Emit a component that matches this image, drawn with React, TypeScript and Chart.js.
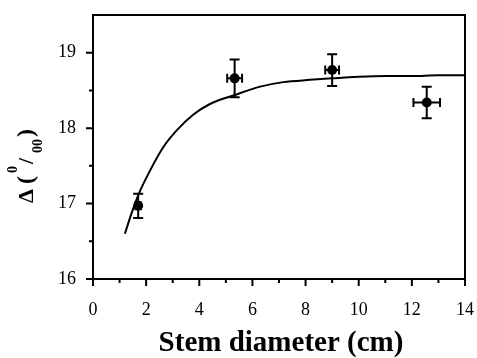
import React, { useEffect, useRef } from 'react';
import { Chart, registerables } from 'chart.js';

Chart.register(...registerables);

// ---- data ----
const stemDiameter = [1.7, 5.33, 9.0, 12.56];
const deltaValues = [16.97, 18.66, 18.77, 18.34];
const deltaErr = [0.16, 0.25, 0.21, 0.21];
const diameterErr = [0.1, 0.28, 0.26, 0.5];

const fitX = [1.2, 1.45, 1.7, 2.15, 2.65, 3.15, 3.78, 4.4, 5.34, 6.29, 7.16, 8.17, 9.0, 10.0, 11.0, 12.0, 13.0, 14.0];
const fitY = [16.6, 16.87, 17.11, 17.44, 17.75, 17.97, 18.18, 18.32, 18.44, 18.55, 18.61, 18.64, 18.66, 18.68, 18.69, 18.69, 18.7, 18.7];

const xTickValues = [0, 2, 4, 6, 8, 10, 12, 14];
const xMinorTicks = [1, 3, 5, 7, 9, 11, 13];
const yTickValues = [16, 17, 18, 19];
const yMinorTicks = [16.5, 17.5, 18.5];

const xTitle = 'Stem diameter (cm)';
const FONT = '"Liberation Serif", "Times New Roman", serif';

const decorPlugin = {
  id: 'decor',
  afterDatasetsDraw(chart: any) {
    const ctx = chart.ctx as CanvasRenderingContext2D;
    const xs = chart.scales.x;
    const ys = chart.scales.y;
    const { left, right, top, bottom } = chart.chartArea;
    ctx.save();
    ctx.strokeStyle = '#000';
    ctx.lineWidth = 2;
    // error bars
    for (let i = 0; i < stemDiameter.length; i++) {
      const px = xs.getPixelForValue(stemDiameter[i]);
      const py = ys.getPixelForValue(deltaValues[i]);
      const y1 = ys.getPixelForValue(deltaValues[i] + deltaErr[i]);
      const y2 = ys.getPixelForValue(deltaValues[i] - deltaErr[i]);
      const x1 = xs.getPixelForValue(stemDiameter[i] - diameterErr[i]);
      const x2 = xs.getPixelForValue(stemDiameter[i] + diameterErr[i]);
      ctx.beginPath();
      ctx.moveTo(px, y1); ctx.lineTo(px, y2);
      ctx.moveTo(px - 5, y1); ctx.lineTo(px + 5, y1);
      ctx.moveTo(px - 5, y2); ctx.lineTo(px + 5, y2);
      ctx.moveTo(x1, py); ctx.lineTo(x2, py);
      ctx.moveTo(x1, py - 4.5); ctx.lineTo(x1, py + 4.5);
      ctx.moveTo(x2, py - 4.5); ctx.lineTo(x2, py + 4.5);
      ctx.stroke();
    }
    // frame
    ctx.beginPath();
    ctx.rect(left, top, right - left, bottom - top);
    ctx.stroke();
    // ticks
    ctx.beginPath();
    xTickValues.forEach((v) => {
      const p = xs.getPixelForValue(v);
      ctx.moveTo(p, bottom); ctx.lineTo(p, bottom + 7);
    });
    xMinorTicks.forEach((v) => {
      const p = xs.getPixelForValue(v);
      ctx.moveTo(p, bottom); ctx.lineTo(p, bottom + 4);
    });
    yTickValues.forEach((v) => {
      const p = ys.getPixelForValue(v);
      ctx.moveTo(left, p); ctx.lineTo(left - 7, p);
    });
    yMinorTicks.forEach((v) => {
      const p = ys.getPixelForValue(v);
      ctx.moveTo(left, p); ctx.lineTo(left - 4, p);
    });
    ctx.stroke();

    // x title
    ctx.fillStyle = '#000';
    ctx.font = `bold 29px ${FONT}`;
    ctx.textAlign = 'center';
    ctx.textBaseline = 'alphabetic';
    ctx.fillText(xTitle, (left + right) / 2 + 2, 351);

    // y title: Δ (0/00) with super/subscripts, rotated
    const segs = [
      { t: 'Δ', f: `bold 22px ${FONT}`, at: 0, dy: 0 },
      { t: '(', f: `bold 24px ${FONT}`, at: 19, dy: 0 },
      { t: '0', f: `bold 14px ${FONT}`, at: 30, dy: -16 },
      { t: '/', f: `bold 22px ${FONT}`, at: 39, dy: 0 },
      { t: '00', f: `bold 14px ${FONT}`, at: 50, dy: 9 },
      { t: ')', f: `bold 24px ${FONT}`, at: 66, dy: 0 },
    ];
    ctx.translate(33, 203);
    ctx.rotate(-Math.PI / 2);
    ctx.textAlign = 'left';
    segs.forEach((s) => {
      ctx.font = s.f;
      ctx.fillText(s.t, s.at, s.dy);
    });
    ctx.restore();
  },
};

const noPad = (s: any) => {
  s.paddingLeft = 0;
  s.paddingRight = 0;
  s.paddingTop = 0;
  s.paddingBottom = 0;
};

export default function App() {
  const ref = useRef<HTMLCanvasElement | null>(null);
  useEffect(() => {
    if (!ref.current) return;
    const chart = new Chart(ref.current, {
      type: 'scatter',
      data: {
        datasets: [
          {
            data: stemDiameter.map((x, i) => ({ x, y: deltaValues[i] })),
            pointRadius: 5,
            pointBackgroundColor: '#000',
            pointBorderColor: '#000',
            pointBorderWidth: 0,
            showLine: false,
          },
          {
            data: fitX.map((x, i) => ({ x, y: fitY[i] })),
            showLine: true,
            pointRadius: 0,
            borderColor: '#000',
            borderWidth: 2,
            cubicInterpolationMode: 'monotone',
          } as any,
        ],
      },
      options: {
        animation: false,
        responsive: false,
        devicePixelRatio: 1,
        layout: { padding: { top: 15, right: 12, left: 0, bottom: 0 } },
        plugins: { legend: { display: false }, tooltip: { enabled: false } },
        scales: {
          x: {
            type: 'linear',
            min: 0,
            max: 14,
            afterFit: (s: any) => { s.height = 79; noPad(s); },
            afterBuildTicks: (s: any) => { s.ticks = xTickValues.map((v) => ({ value: v })); },
            grid: { display: false, drawTicks: false },
            border: { display: false },
            ticks: { color: '#000', font: { family: FONT, size: 18 }, padding: 20, maxRotation: 0, autoSkip: false },
          },
          y: {
            type: 'linear',
            min: 16,
            max: 19.5,
            afterFit: (s: any) => { s.width = 93; noPad(s); },
            afterBuildTicks: (s: any) => { s.ticks = yTickValues.map((v) => ({ value: v })); },
            grid: { display: false, drawTicks: false },
            border: { display: false },
            ticks: { color: '#000', font: { family: FONT, size: 18 }, padding: 17, autoSkip: false },
          },
        },
      },
      plugins: [decorPlugin],
    });
    return () => chart.destroy();
  }, []);
  return (
    <div style={{ position: 'fixed', left: 0, top: 0, width: 477, height: 358, background: '#fff' }}>
      <canvas ref={ref} width={477} height={358} />
    </div>
  );
}
